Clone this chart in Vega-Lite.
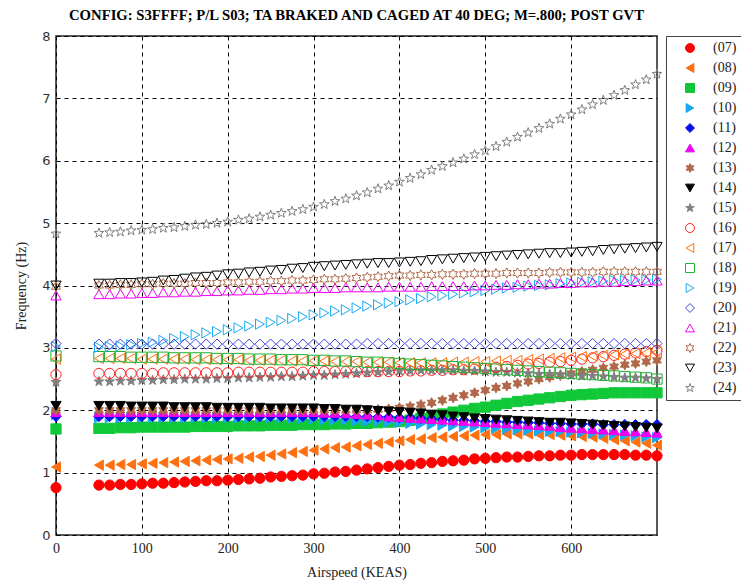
{
"$schema":"https://vega.github.io/schema/vega-lite/v6.json",
"width":601,"height":499,
"autosize":{"type":"none"},
"padding":{"left":56,"top":36,"right":84,"bottom":45},
"background":"white",
"config":{"view":{"stroke":"#222","strokeWidth":1.5}},
"title":{"text":"CONFIG: S3FFFF; P/L S03; TA BRAKED AND CAGED AT 40 DEG; M=.800; POST GVT","font":"Liberation Serif","fontSize":14.7,"fontWeight":"bold","color":"#000","anchor":"middle","offset":7},
"data":{"values":[
{"x":0,"07":0.76,"08":1.09,"09":1.70,"10":1.93,"11":1.90,"12":1.97,"13":2.00,"14":2.07,"15":2.45,"16":2.57,"17":2.82,"18":2.87,"19":3.02,"20":3.07,"21":3.84,"22":3.98,"23":4.00,"24":4.83},
{"x":50,"07":0.80,"08":1.12,"09":1.71,"10":1.88,"11":1.90,"12":1.97,"13":2.00,"14":2.07,"15":2.46,"16":2.59,"17":2.83,"18":2.86,"19":3.01,"20":3.06,"21":3.86,"22":4.00,"23":4.03,"24":4.84},
{"x":62.5,"07":0.80,"08":1.12,"09":1.71,"10":1.88,"11":1.90,"12":1.97,"13":2.00,"14":2.07,"15":2.46,"16":2.59,"17":2.83,"18":2.86,"19":3.02,"20":3.06,"21":3.86,"22":4.00,"23":4.03,"24":4.85},
{"x":75,"07":0.81,"08":1.13,"09":1.72,"10":1.88,"11":1.90,"12":1.97,"13":2.00,"14":2.07,"15":2.47,"16":2.59,"17":2.83,"18":2.86,"19":3.03,"20":3.06,"21":3.87,"22":4.01,"23":4.04,"24":4.86},
{"x":87.5,"07":0.81,"08":1.13,"09":1.72,"10":1.88,"11":1.90,"12":1.97,"13":2.00,"14":2.06,"15":2.47,"16":2.59,"17":2.83,"18":2.85,"19":3.05,"20":3.06,"21":3.87,"22":4.01,"23":4.04,"24":4.88},
{"x":100,"07":0.82,"08":1.14,"09":1.73,"10":1.88,"11":1.90,"12":1.97,"13":2.00,"14":2.06,"15":2.48,"16":2.59,"17":2.82,"18":2.85,"19":3.07,"20":3.06,"21":3.88,"22":4.02,"23":4.05,"24":4.89},
{"x":112.5,"07":0.83,"08":1.15,"09":1.73,"10":1.88,"11":1.90,"12":1.97,"13":2.00,"14":2.06,"15":2.48,"16":2.59,"17":2.82,"18":2.85,"19":3.09,"20":3.06,"21":3.88,"22":4.02,"23":4.06,"24":4.90},
{"x":125,"07":0.83,"08":1.16,"09":1.73,"10":1.88,"11":1.90,"12":1.97,"13":2.00,"14":2.06,"15":2.49,"16":2.60,"17":2.82,"18":2.85,"19":3.12,"20":3.06,"21":3.89,"22":4.03,"23":4.08,"24":4.92},
{"x":137.5,"07":0.84,"08":1.17,"09":1.73,"10":1.88,"11":1.90,"12":1.97,"13":2.00,"14":2.05,"15":2.49,"16":2.60,"17":2.82,"18":2.84,"19":3.15,"20":3.06,"21":3.89,"22":4.03,"23":4.09,"24":4.93},
{"x":150,"07":0.85,"08":1.18,"09":1.73,"10":1.88,"11":1.90,"12":1.97,"13":2.00,"14":2.05,"15":2.50,"16":2.60,"17":2.82,"18":2.84,"19":3.18,"20":3.06,"21":3.90,"22":4.03,"23":4.11,"24":4.95},
{"x":162.5,"07":0.86,"08":1.19,"09":1.74,"10":1.88,"11":1.90,"12":1.97,"13":2.00,"14":2.05,"15":2.50,"16":2.60,"17":2.81,"18":2.84,"19":3.21,"20":3.06,"21":3.90,"22":4.04,"23":4.13,"24":4.97},
{"x":175,"07":0.87,"08":1.20,"09":1.74,"10":1.88,"11":1.90,"12":1.97,"13":2.00,"14":2.05,"15":2.50,"16":2.60,"17":2.81,"18":2.84,"19":3.24,"20":3.06,"21":3.91,"22":4.04,"23":4.14,"24":4.98},
{"x":187.5,"07":0.87,"08":1.21,"09":1.74,"10":1.88,"11":1.90,"12":1.97,"13":2.00,"14":2.04,"15":2.51,"16":2.60,"17":2.81,"18":2.83,"19":3.26,"20":3.06,"21":3.91,"22":4.04,"23":4.16,"24":5.00},
{"x":200,"07":0.88,"08":1.22,"09":1.74,"10":1.88,"11":1.90,"12":1.97,"13":2.00,"14":2.04,"15":2.51,"16":2.60,"17":2.81,"18":2.83,"19":3.29,"20":3.06,"21":3.92,"22":4.05,"23":4.18,"24":5.02},
{"x":212.5,"07":0.89,"08":1.23,"09":1.75,"10":1.88,"11":1.90,"12":1.97,"13":2.00,"14":2.04,"15":2.52,"16":2.61,"17":2.81,"18":2.83,"19":3.32,"20":3.06,"21":3.92,"22":4.05,"23":4.19,"24":5.05},
{"x":225,"07":0.90,"08":1.25,"09":1.75,"10":1.88,"11":1.90,"12":1.97,"13":2.00,"14":2.04,"15":2.52,"16":2.61,"17":2.80,"18":2.82,"19":3.35,"20":3.06,"21":3.93,"22":4.06,"23":4.21,"24":5.07},
{"x":237.5,"07":0.91,"08":1.26,"09":1.75,"10":1.88,"11":1.90,"12":1.97,"13":2.00,"14":2.04,"15":2.53,"16":2.61,"17":2.80,"18":2.82,"19":3.38,"20":3.06,"21":3.93,"22":4.06,"23":4.22,"24":5.10},
{"x":250,"07":0.93,"08":1.28,"09":1.76,"10":1.88,"11":1.90,"12":1.97,"13":2.00,"14":2.03,"15":2.53,"16":2.61,"17":2.80,"18":2.82,"19":3.41,"20":3.06,"21":3.94,"22":4.07,"23":4.24,"24":5.13},
{"x":262.5,"07":0.94,"08":1.30,"09":1.76,"10":1.88,"11":1.90,"12":1.97,"13":2.00,"14":2.03,"15":2.54,"16":2.61,"17":2.80,"18":2.81,"19":3.44,"20":3.06,"21":3.94,"22":4.07,"23":4.25,"24":5.16},
{"x":275,"07":0.95,"08":1.32,"09":1.76,"10":1.87,"11":1.90,"12":1.97,"13":2.00,"14":2.03,"15":2.54,"16":2.61,"17":2.79,"18":2.81,"19":3.47,"20":3.06,"21":3.95,"22":4.08,"23":4.27,"24":5.19},
{"x":287.5,"07":0.96,"08":1.34,"09":1.77,"10":1.87,"11":1.90,"12":1.97,"13":2.00,"14":2.03,"15":2.55,"16":2.61,"17":2.79,"18":2.81,"19":3.50,"20":3.06,"21":3.95,"22":4.08,"23":4.28,"24":5.22},
{"x":300,"07":0.98,"08":1.36,"09":1.77,"10":1.86,"11":1.90,"12":1.97,"13":2.00,"14":2.03,"15":2.56,"16":2.62,"17":2.79,"18":2.80,"19":3.53,"20":3.06,"21":3.96,"22":4.09,"23":4.30,"24":5.26},
{"x":312.5,"07":0.99,"08":1.38,"09":1.77,"10":1.85,"11":1.90,"12":1.96,"13":2.00,"14":2.02,"15":2.56,"16":2.62,"17":2.79,"18":2.80,"19":3.56,"20":3.06,"21":3.96,"22":4.10,"23":4.31,"24":5.30},
{"x":325,"07":1.01,"08":1.40,"09":1.78,"10":1.85,"11":1.90,"12":1.96,"13":2.00,"14":2.02,"15":2.57,"16":2.62,"17":2.78,"18":2.79,"19":3.59,"20":3.06,"21":3.96,"22":4.10,"23":4.32,"24":5.35},
{"x":337.5,"07":1.02,"08":1.41,"09":1.78,"10":1.84,"11":1.90,"12":1.95,"13":2.00,"14":2.01,"15":2.58,"16":2.62,"17":2.78,"18":2.79,"19":3.61,"20":3.06,"21":3.97,"22":4.11,"23":4.33,"24":5.39},
{"x":350,"07":1.04,"08":1.43,"09":1.79,"10":1.83,"11":1.90,"12":1.94,"13":2.00,"14":2.01,"15":2.59,"16":2.62,"17":2.78,"18":2.78,"19":3.64,"20":3.06,"21":3.97,"22":4.12,"23":4.34,"24":5.44},
{"x":362.5,"07":1.06,"08":1.45,"09":1.79,"10":1.82,"11":1.90,"12":1.93,"13":2.00,"14":2.00,"15":2.60,"16":2.62,"17":2.77,"18":2.77,"19":3.67,"20":3.07,"21":3.97,"22":4.13,"23":4.35,"24":5.49},
{"x":375,"07":1.08,"08":1.47,"09":1.80,"10":1.82,"11":1.89,"12":1.92,"13":2.01,"14":1.99,"15":2.61,"16":2.62,"17":2.77,"18":2.77,"19":3.69,"20":3.07,"21":3.97,"22":4.14,"23":4.36,"24":5.55},
{"x":387.5,"07":1.10,"08":1.49,"09":1.81,"10":1.81,"11":1.89,"12":1.90,"13":2.02,"14":1.98,"15":2.62,"16":2.62,"17":2.77,"18":2.76,"19":3.72,"20":3.07,"21":3.98,"22":4.15,"23":4.36,"24":5.60},
{"x":400,"07":1.12,"08":1.51,"09":1.82,"10":1.80,"11":1.88,"12":1.89,"13":2.04,"14":1.97,"15":2.63,"16":2.62,"17":2.76,"18":2.75,"19":3.74,"20":3.07,"21":3.98,"22":4.16,"23":4.37,"24":5.66},
{"x":412.5,"07":1.13,"08":1.53,"09":1.84,"10":1.79,"11":1.88,"12":1.88,"13":2.06,"14":1.96,"15":2.63,"16":2.63,"17":2.76,"18":2.74,"19":3.77,"20":3.07,"21":3.98,"22":4.16,"23":4.38,"24":5.72},
{"x":425,"07":1.15,"08":1.54,"09":1.87,"10":1.78,"11":1.87,"12":1.87,"13":2.09,"14":1.95,"15":2.64,"16":2.63,"17":2.76,"18":2.73,"19":3.79,"20":3.07,"21":3.98,"22":4.17,"23":4.39,"24":5.78},
{"x":437.5,"07":1.16,"08":1.56,"09":1.90,"10":1.77,"11":1.86,"12":1.86,"13":2.12,"14":1.93,"15":2.64,"16":2.64,"17":2.76,"18":2.72,"19":3.82,"20":3.07,"21":3.99,"22":4.17,"23":4.41,"24":5.85},
{"x":450,"07":1.18,"08":1.57,"09":1.94,"10":1.76,"11":1.85,"12":1.85,"13":2.16,"14":1.92,"15":2.64,"16":2.64,"17":2.76,"18":2.71,"19":3.84,"20":3.07,"21":3.99,"22":4.18,"23":4.42,"24":5.91},
{"x":462.5,"07":1.19,"08":1.58,"09":1.97,"10":1.75,"11":1.84,"12":1.84,"13":2.20,"14":1.90,"15":2.64,"16":2.65,"17":2.77,"18":2.70,"19":3.86,"20":3.07,"21":3.99,"22":4.18,"23":4.43,"24":5.97},
{"x":475,"07":1.20,"08":1.59,"09":2.00,"10":1.74,"11":1.84,"12":1.83,"13":2.24,"14":1.89,"15":2.63,"16":2.65,"17":2.77,"18":2.69,"19":3.88,"20":3.07,"21":3.99,"22":4.18,"23":4.44,"24":6.03},
{"x":487.5,"07":1.22,"08":1.60,"09":2.03,"10":1.73,"11":1.83,"12":1.82,"13":2.28,"14":1.87,"15":2.63,"16":2.66,"17":2.78,"18":2.68,"19":3.90,"20":3.07,"21":4.00,"22":4.19,"23":4.45,"24":6.10},
{"x":500,"07":1.23,"08":1.61,"09":2.05,"10":1.72,"11":1.82,"12":1.81,"13":2.32,"14":1.86,"15":2.62,"16":2.67,"17":2.78,"18":2.67,"19":3.92,"20":3.07,"21":4.00,"22":4.19,"23":4.46,"24":6.16},
{"x":512.5,"07":1.24,"08":1.61,"09":2.08,"10":1.71,"11":1.82,"12":1.80,"13":2.36,"14":1.85,"15":2.61,"16":2.69,"17":2.79,"18":2.66,"19":3.94,"20":3.07,"21":4.01,"22":4.19,"23":4.47,"24":6.23},
{"x":525,"07":1.25,"08":1.62,"09":2.11,"10":1.70,"11":1.81,"12":1.79,"13":2.39,"14":1.84,"15":2.61,"16":2.70,"17":2.80,"18":2.65,"19":3.96,"20":3.07,"21":4.01,"22":4.20,"23":4.48,"24":6.30},
{"x":537.5,"07":1.25,"08":1.62,"09":2.14,"10":1.69,"11":1.81,"12":1.78,"13":2.43,"14":1.83,"15":2.60,"16":2.72,"17":2.80,"18":2.64,"19":3.97,"20":3.07,"21":4.02,"22":4.20,"23":4.49,"24":6.38},
{"x":550,"07":1.26,"08":1.62,"09":2.16,"10":1.68,"11":1.80,"12":1.77,"13":2.46,"14":1.82,"15":2.59,"16":2.74,"17":2.81,"18":2.63,"19":3.99,"20":3.07,"21":4.02,"22":4.20,"23":4.50,"24":6.45},
{"x":562.5,"07":1.27,"08":1.61,"09":2.18,"10":1.67,"11":1.80,"12":1.76,"13":2.50,"14":1.81,"15":2.58,"16":2.75,"17":2.82,"18":2.62,"19":4.00,"20":3.07,"21":4.03,"22":4.20,"23":4.51,"24":6.52},
{"x":575,"07":1.27,"08":1.61,"09":2.20,"10":1.66,"11":1.79,"12":1.75,"13":2.53,"14":1.80,"15":2.58,"16":2.77,"17":2.83,"18":2.61,"19":4.01,"20":3.07,"21":4.03,"22":4.21,"23":4.52,"24":6.59},
{"x":587.5,"07":1.28,"08":1.60,"09":2.22,"10":1.66,"11":1.79,"12":1.73,"13":2.56,"14":1.80,"15":2.57,"16":2.78,"17":2.84,"18":2.60,"19":4.03,"20":3.07,"21":4.04,"22":4.21,"23":4.52,"24":6.67},
{"x":600,"07":1.28,"08":1.59,"09":2.24,"10":1.65,"11":1.78,"12":1.72,"13":2.59,"14":1.79,"15":2.56,"16":2.80,"17":2.85,"18":2.59,"19":4.04,"20":3.07,"21":4.04,"22":4.21,"23":4.53,"24":6.74},
{"x":612.5,"07":1.29,"08":1.58,"09":2.25,"10":1.64,"11":1.78,"12":1.71,"13":2.62,"14":1.78,"15":2.55,"16":2.82,"17":2.86,"18":2.58,"19":4.05,"20":3.07,"21":4.05,"22":4.21,"23":4.54,"24":6.82},
{"x":625,"07":1.29,"08":1.57,"09":2.26,"10":1.63,"11":1.78,"12":1.70,"13":2.65,"14":1.77,"15":2.55,"16":2.84,"17":2.87,"18":2.57,"19":4.06,"20":3.07,"21":4.05,"22":4.21,"23":4.55,"24":6.90},
{"x":637.5,"07":1.29,"08":1.55,"09":2.27,"10":1.62,"11":1.77,"12":1.69,"13":2.68,"14":1.76,"15":2.54,"16":2.86,"17":2.88,"18":2.56,"19":4.07,"20":3.07,"21":4.06,"22":4.22,"23":4.57,"24":6.97},
{"x":650,"07":1.29,"08":1.53,"09":2.28,"10":1.61,"11":1.77,"12":1.68,"13":2.70,"14":1.75,"15":2.53,"16":2.88,"17":2.89,"18":2.55,"19":4.08,"20":3.07,"21":4.06,"22":4.22,"23":4.58,"24":7.05},
{"x":662.5,"07":1.29,"08":1.51,"09":2.28,"10":1.60,"11":1.77,"12":1.67,"13":2.73,"14":1.74,"15":2.52,"16":2.90,"17":2.90,"18":2.54,"19":4.08,"20":3.07,"21":4.07,"22":4.22,"23":4.59,"24":7.13},
{"x":675,"07":1.28,"08":1.49,"09":2.28,"10":1.59,"11":1.77,"12":1.66,"13":2.75,"14":1.73,"15":2.52,"16":2.92,"17":2.91,"18":2.53,"19":4.09,"20":3.07,"21":4.07,"22":4.22,"23":4.60,"24":7.22},
{"x":687.5,"07":1.28,"08":1.47,"09":2.28,"10":1.57,"11":1.77,"12":1.65,"13":2.78,"14":1.72,"15":2.51,"16":2.94,"17":2.92,"18":2.52,"19":4.09,"20":3.07,"21":4.08,"22":4.22,"23":4.61,"24":7.30},
{"x":700,"07":1.27,"08":1.44,"09":2.28,"10":1.56,"11":1.77,"12":1.64,"13":2.80,"14":1.71,"15":2.50,"16":2.96,"17":2.93,"18":2.50,"19":4.10,"20":3.07,"21":4.08,"22":4.22,"23":4.62,"24":7.39}
]},
"transform":[{"fold":["07","08","09","10","11","12","13","14","15","16","17","18","19","20","21","22","23","24"],"as":["s","y"]}],
"mark":{"type":"point","filled":true,"size":105,"strokeWidth":1,"opacity":1},
"encoding":{
"x":{"field":"x","type":"quantitative","scale":{"domain":[0,700],"nice":false,"zero":false},
"axis":{"title":"Airspeed (KEAS)","values":[0,100,200,300,400,500,600],"grid":true,"gridColor":"#000","gridDash":[4,4],"gridOpacity":1,"gridWidth":1,"domain":false,"ticks":false,"labelPadding":6,"labelFont":"Liberation Serif","labelFontSize":14,"labelColor":"#222","labelFlush":false,"titleFont":"Liberation Serif","titleFontSize":14,"titleFontWeight":"normal","titleColor":"#222","titlePadding":10}},
"y":{"field":"y","type":"quantitative","scale":{"domain":[0,8],"nice":false,"zero":false},
"axis":{"title":"Frequency (Hz)","values":[0,1,2,3,4,5,6,7,8],"grid":true,"gridColor":"#000","gridDash":[4,4],"gridOpacity":1,"gridWidth":1,"domain":false,"ticks":false,"labelPadding":6,"labelFont":"DejaVu Sans","labelFontSize":13,"labelColor":"#333","labelFlush":false,"titleFont":"Liberation Serif","titleFontSize":14,"titleFontWeight":"normal","titleColor":"#222","titlePadding":13}},
"fill":{"field":"s","type":"nominal",
"scale":{"domain":["07","08","09","10","11","12","13","14","15","16","17","18","19","20","21","22","23","24"],
"range":["#FF0000","#FF7010","#10C838","#18A8F0","#0010F0","#F000F0","#B06848","#000000","#808080","transparent","transparent","transparent","transparent","transparent","transparent","transparent","transparent","transparent"]},
"legend":{"title":null,"orient":"none","legendX":610,"legendY":0,"labelExpr":"'(' + datum.label + ')'","padding":5,"rowPadding":6,"labelFont":"Liberation Serif","labelFontSize":14,"labelColor":"#222","symbolSize":80,"symbolStrokeWidth":1,"symbolOffset":12,"labelOffset":16,"strokeColor":"#444","fillColor":"white","symbolLimit":0}},
"stroke":{"field":"s","type":"nominal",
"scale":{"domain":["07","08","09","10","11","12","13","14","15","16","17","18","19","20","21","22","23","24"],
"range":["#FF0000","#FF7010","#10C838","#18A8F0","#0010F0","#F000F0","#B06848","#000000","#808080","#FF2020","#FF7010","#20B030","#18A8F0","#4646D8","#F000F0","#B06848","#000000","#808080"]},
"legend":{"title":null,"orient":"none","legendX":610,"legendY":0,"labelExpr":"'(' + datum.label + ')'","padding":5,"rowPadding":6,"labelFont":"Liberation Serif","labelFontSize":14,"labelColor":"#222","symbolSize":80,"symbolStrokeWidth":1,"symbolOffset":12,"labelOffset":16,"strokeColor":"#444","fillColor":"white","symbolLimit":0}},
"shape":{"field":"s","type":"nominal",
"scale":{"domain":["07","08","09","10","11","12","13","14","15","16","17","18","19","20","21","22","23","24"],
"range":["circle","triangle-left","square","triangle-right","diamond","triangle-up","M0,-1L0.275,-0.476L0.866,-0.5L0.55,0L0.866,0.5L0.275,0.476L0,1L-0.275,0.476L-0.866,0.5L-0.55,0L-0.866,-0.5L-0.275,-0.476Z","triangle-down","M0,-1L0.235,-0.324L0.951,-0.309L0.38,0.124L0.588,0.809L0,0.4L-0.588,0.809L-0.38,0.124L-0.951,-0.309L-0.235,-0.324Z","circle","triangle-left","square","triangle-right","diamond","triangle-up","M0,-1L0.275,-0.476L0.866,-0.5L0.55,0L0.866,0.5L0.275,0.476L0,1L-0.275,0.476L-0.866,0.5L-0.55,0L-0.866,-0.5L-0.275,-0.476Z","triangle-down","M0,-1L0.235,-0.324L0.951,-0.309L0.38,0.124L0.588,0.809L0,0.4L-0.588,0.809L-0.38,0.124L-0.951,-0.309L-0.235,-0.324Z"]},
"legend":{"title":null,"orient":"none","legendX":610,"legendY":0,"labelExpr":"'(' + datum.label + ')'","padding":5,"rowPadding":6,"labelFont":"Liberation Serif","labelFontSize":14,"labelColor":"#222","symbolSize":80,"symbolStrokeWidth":1,"symbolOffset":12,"labelOffset":16,"strokeColor":"#444","fillColor":"white","symbolLimit":0}}
}
}
